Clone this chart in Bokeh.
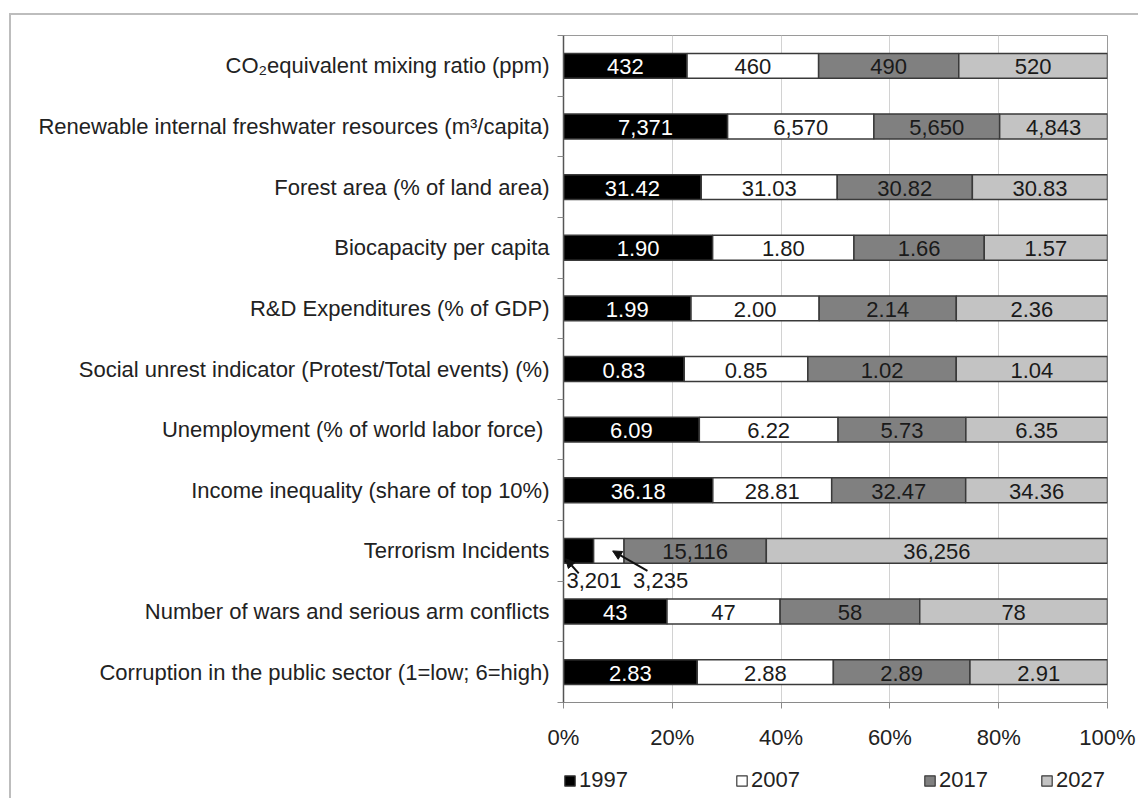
from bokeh.plotting import figure
from bokeh.layouts import column
from bokeh.models import (Range1d, FixedTicker, NumeralTickFormatter, ColumnDataSource,
                          Legend, LegendItem, Arrow, NormalHead)
from bokeh.core.properties import value
from bokeh.embed import file_html
from bokeh.resources import INLINE

categories = [
    "CO\u2082equivalent mixing ratio (ppm)",
    "Renewable internal freshwater resources (m\u00b3/capita)",
    "Forest area (% of land area)",
    "Biocapacity per capita",
    "R&D Expenditures (% of GDP)",
    "Social unrest indicator (Protest/Total events) (%)",
    "Unemployment  (% of world labor force)",
    "Income inequality (share of top 10%)",
    "Terrorism Incidents",
    "Number of wars and serious arm conflicts",
    "Corruption in the public sector (1=low; 6=high)",
]
years = ["1997", "2007", "2017", "2027"]
v1997 = [432, 7371, 31.42, 1.90, 1.99, 0.83, 6.09, 36.18, 3201, 43, 2.83]
v2007 = [460, 6570, 31.03, 1.80, 2.00, 0.85, 6.22, 28.81, 3235, 47, 2.88]
v2017 = [490, 5650, 30.82, 1.66, 2.14, 1.02, 5.73, 32.47, 15116, 58, 2.89]
v2027 = [520, 4843, 30.83, 1.57, 2.36, 1.04, 6.35, 34.36, 36256, 78, 2.91]
decimals = [0, 0, 2, 2, 2, 2, 2, 2, 0, 0, 2]
x_ticks = [0, 0.2, 0.4, 0.6, 0.8, 1.0]
# small segments whose labels sit under the bar with an arrow:
# (category, series index) -> label anchored at the segment's "left" or "right" edge
outside = {("Terrorism Incidents", 0): "left", ("Terrorism Incidents", 1): "right"}

series = [v1997, v2007, v2017, v2027]
fills = ["#000000", "#ffffff", "#808080", "#c3c3c3"]
txt_colors = ["#ffffff", "#1a1a1a", "#1a1a1a", "#1a1a1a"]
FONT = value("Liberation Sans")
FS = "22px"
LINE = "#3a3a3a"

n = len(categories)
idx = list(range(n))
totals = [sum(s[i] for s in series) for i in idx]

p = figure(width=1127, height=745, x_range=Range1d(0, 1), y_range=Range1d(n - 0.5, -0.5),
           output_backend="svg", toolbar_location=None,
           min_border_left=552, min_border_right=31, min_border_top=20, min_border_bottom=58)
p.outline_line_color = "#9a9a9a"
p.outline_line_width = 1

# legend strip below the chart (same stacked data, outside its visible y range)
lf = figure(width=1127, height=38, x_range=Range1d(0, 1), y_range=Range1d(100, 101),
            output_backend="svg", toolbar_location=None,
            x_axis_type=None, y_axis_type=None,
            min_border_left=552, min_border_right=31, min_border_top=0, min_border_bottom=0)
lf.outline_line_color = None
lf.xgrid.visible = False
lf.ygrid.visible = False

legend_renderers = []
cum = [0.0] * n
for k, s in enumerate(series):
    left = [cum[i] for i in idx]
    right = [cum[i] + s[i] / totals[i] for i in idx]
    cum = right
    src = ColumnDataSource(dict(y=idx, left=left, right=right))
    p.hbar(y="y", left="left", right="right", height=0.41, source=src,
           fill_color=fills[k], line_color=LINE, line_width=1.5)
    legend_renderers.append(lf.hbar(y="y", left="left", right="right", height=0.41, source=src,
                                    fill_color=fills[k], line_color=LINE, line_width=1.2))

    lab_x, lab_y, lab_t = [], [], []
    for i in idx:
        txt = f"{s[i]:,.{decimals[i]}f}"
        key = (categories[i], k)
        if key in outside:
            mid = (left[i] + right[i]) / 2
            if outside[key] == "left":
                lx, xoff = left[i], 3
                ax0, ay0, ax1, ay1 = left[i] + 0.028, i + 0.37, left[i] + 0.004, i + 0.13
            else:
                lx, xoff = right[i], 9
                ax0, ay0, ax1, ay1 = right[i] + 0.043, i + 0.33, mid + 0.007, i + 0.0
            p.text(x=[lx], y=[i + 0.49], text=[txt], text_font=FONT, text_font_size=FS,
                   text_color="#1a1a1a", text_align="left", text_baseline="middle",
                   x_offset=xoff)
            p.add_layout(Arrow(end=NormalHead(size=9, fill_color="#111111", line_color="#111111"),
                               x_start=ax0, y_start=ay0, x_end=ax1, y_end=ay1,
                               line_width=2, line_color="#111111"))
        else:
            lab_x.append((left[i] + right[i]) / 2)
            lab_y.append(i)
            lab_t.append(txt)
    p.text(x=lab_x, y=lab_y, text=lab_t, text_font=FONT, text_font_size=FS,
           text_color=txt_colors[k], text_align="center", text_baseline="middle", y_offset=1)

# axes
p.xaxis.ticker = FixedTicker(ticks=x_ticks)
p.xaxis.formatter = NumeralTickFormatter(format="0%")
p.xaxis.major_label_text_font = "Liberation Sans"
p.xaxis.major_label_text_font_size = FS
p.xaxis.major_label_text_color = "#222222"
p.xaxis.major_label_standoff = 16
p.xaxis.major_tick_out = 6
p.xaxis.major_tick_in = 0
p.xaxis.minor_tick_out = 0
p.xaxis.axis_line_color = "#8a8a8a"
p.xaxis.major_tick_line_color = "#8a8a8a"

p.yaxis.ticker = FixedTicker(ticks=idx, minor_ticks=[i - 0.5 for i in range(n + 1)])
p.yaxis.major_label_overrides = {i: categories[i] for i in idx}
p.yaxis.major_label_text_font = "Liberation Sans"
p.yaxis.major_label_text_font_size = FS
p.yaxis.major_label_text_color = "#222222"
p.yaxis.major_label_standoff = 8
p.yaxis.major_tick_out = 0
p.yaxis.major_tick_in = 0
p.yaxis.minor_tick_out = 6
p.yaxis.minor_tick_in = 0
p.yaxis.minor_tick_line_color = "#8a8a8a"
p.yaxis.axis_line_color = "#555555"
p.yaxis.axis_line_width = 1.5

p.xgrid.ticker = FixedTicker(ticks=x_ticks)
p.xgrid.grid_line_color = "#d2d2d2"
p.ygrid.visible = False

# one legend entry per year, spread as in the original
legend_x = [0, 172, 360, 477]
for k in range(len(years)):
    lg = Legend(items=[LegendItem(label=years[k], renderers=[legend_renderers[k]])],
                location=(legend_x[k], 5),
                label_text_font="Liberation Sans", label_text_font_size=FS,
                label_text_color="#222222", glyph_width=13, glyph_height=13,
                label_standoff=3, padding=0, margin=0,
                border_line_color=None, background_fill_alpha=0)
    lf.add_layout(lg, "center")

page = column(p, lf, spacing=0,
              styles={"border-top": "2px solid #bdbdbd", "border-left": "2px solid #bdbdbd",
                      "margin-top": "13px", "margin-left": "9px"})

open("out.html", "w").write(file_html(page, INLINE))
